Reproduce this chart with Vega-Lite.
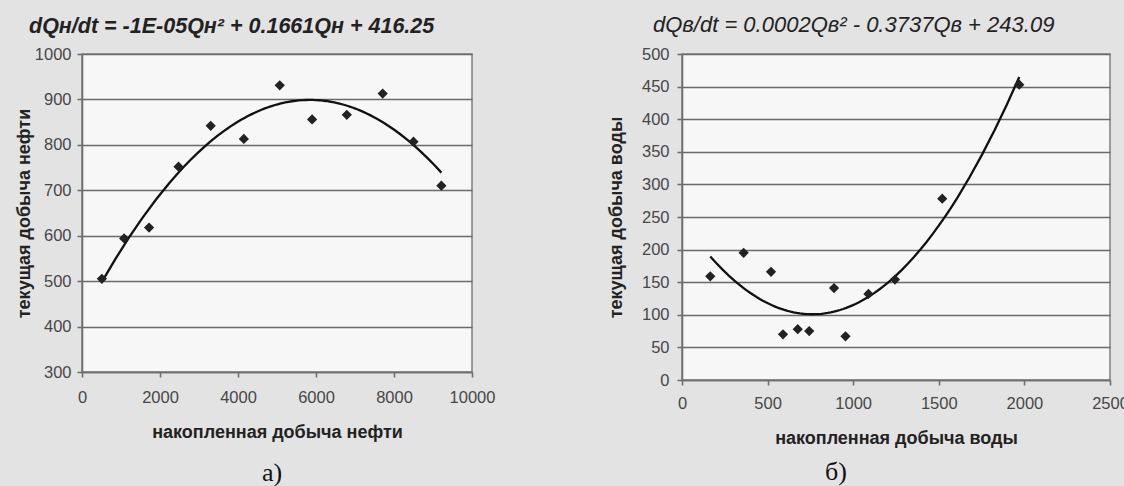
{
  "$schema": "https://vega.github.io/schema/vega-lite/v6.json",
  "background": "#e3e3e3",
  "padding": {"left": 14, "top": 13, "right": 0, "bottom": 0},
  "spacing": 110,
  "config": {
    "view": {"fill": "#f7f7f7", "stroke": "#858585", "strokeWidth": 1.6},
    "axis": {
      "labelFont": "Liberation Sans", "labelFontSize": 16.5, "labelColor": "#474747",
      "titleFont": "Liberation Sans", "titleFontSize": 18, "titleFontWeight": "bold", "titleColor": "#222222",
      "domainColor": "#6f6f6f", "domainWidth": 1.6, "tickColor": "#6f6f6f", "tickWidth": 1.6, "tickSize": 5,
      "gridColor": "#6a6a6a", "gridWidth": 1.5, "labelFlush": false
    },
    "axisX": {"grid": false},
    "title": {"font": "Liberation Sans", "color": "#222222"}
  },
  "hconcat": [
    {
      "title": {"text": "а)", "orient": "bottom", "font": "Liberation Serif", "fontSize": 26, "fontWeight": "normal", "color": "#111111", "offset": 18, "anchor": "middle", "dx": 17},
      "vconcat": [
        {
          "width": 390,
          "height": 318,
          "title": {"text": "dQн/dt = -1E-05Qн² + 0.1661Qн + 416.25", "anchor": "start", "frame": "group", "dx": -53, "fontSize": 21.5, "fontStyle": "italic", "fontWeight": "bold", "offset": 9},
          "data": {"values": [
            {"x": 510, "y": 505}, {"x": 1080, "y": 594}, {"x": 1720, "y": 618}, {"x": 2475, "y": 752},
            {"x": 3300, "y": 842}, {"x": 4150, "y": 813}, {"x": 5070, "y": 931}, {"x": 5900, "y": 856},
            {"x": 6790, "y": 866}, {"x": 7710, "y": 913}, {"x": 8500, "y": 807}, {"x": 9215, "y": 710}
          ]},
          "encoding": {
            "x": {"field": "x", "type": "quantitative", "scale": {"domain": [0, 10000], "nice": false},
                  "axis": {"title": "накопленная добыча нефти", "values": [0, 2000, 4000, 6000, 8000, 10000], "format": "d", "labelPadding": 12, "titlePadding": 18}},
            "y": {"field": "y", "type": "quantitative", "scale": {"domain": [300, 1000], "nice": false, "zero": false},
                  "axis": {"title": "текущая добыча нефти", "values": [300, 400, 500, 600, 700, 800, 900, 1000], "format": "d", "labelPadding": 6, "titlePadding": 1}}
          },
          "layer": [
            {"transform": [{"regression": "y", "on": "x", "method": "poly", "order": 2}],
             "mark": {"type": "line", "color": "#111111", "strokeWidth": 2.3}},
            {"mark": {"type": "point", "shape": "diamond", "filled": true, "color": "#222222", "size": 105, "opacity": 1}},
            {"data": {"values": [{"label": "D>0"}]},
             "mark": {"type": "text", "font": "Liberation Sans", "fontSize": 23, "fontStyle": "italic", "fontWeight": "bold", "color": "#222222"},
             "encoding": {"x": {"datum": 5077}, "y": {"datum": 641}, "text": {"field": "label"}}}
          ]
        }
      ]
    },
    {
      "title": {"text": "б)", "orient": "bottom", "font": "Liberation Serif", "fontSize": 26, "fontWeight": "normal", "color": "#111111", "offset": 11, "anchor": "middle", "dx": -32},
      "vconcat": [
        {
          "width": 428,
          "height": 326,
          "title": {"text": "dQв/dt  = 0.0002Qв² - 0.3737Qв + 243.09", "anchor": "start", "frame": "group", "dx": -29, "fontSize": 22, "fontStyle": "italic", "fontWeight": "normal", "offset": 9},
          "data": {"values": [
            {"x": 165, "y": 159}, {"x": 360, "y": 195}, {"x": 520, "y": 166}, {"x": 590, "y": 70},
            {"x": 676, "y": 78}, {"x": 743, "y": 75}, {"x": 888, "y": 141}, {"x": 955, "y": 67},
            {"x": 1089, "y": 132}, {"x": 1244, "y": 154}, {"x": 1520, "y": 278}, {"x": 1970, "y": 453}
          ]},
          "encoding": {
            "x": {"field": "x", "type": "quantitative", "scale": {"domain": [0, 2500], "nice": false},
                  "axis": {"title": "накопленная добыча воды", "values": [0, 500, 1000, 1500, 2000, 2500], "format": "d", "labelPadding": 10, "titlePadding": 18}},
            "y": {"field": "y", "type": "quantitative", "scale": {"domain": [0, 500], "nice": false},
                  "axis": {"title": "текущая добыча воды", "values": [0, 50, 100, 150, 200, 250, 300, 350, 400, 450, 500], "format": "d", "labelPadding": 8, "titlePadding": 16}}
          },
          "layer": [
            {"transform": [{"regression": "y", "on": "x", "method": "poly", "order": 2}],
             "mark": {"type": "line", "color": "#111111", "strokeWidth": 2.3}},
            {"mark": {"type": "point", "shape": "diamond", "filled": true, "color": "#222222", "size": 105, "opacity": 1}},
            {"data": {"values": [{"label": "D<0"}]},
             "mark": {"type": "text", "font": "Liberation Sans", "fontSize": 23, "fontStyle": "italic", "fontWeight": "bold", "color": "#222222"},
             "encoding": {"x": {"datum": 888}, "y": {"datum": 275}, "text": {"field": "label"}}}
          ]
        }
      ]
    }
  ]
}
